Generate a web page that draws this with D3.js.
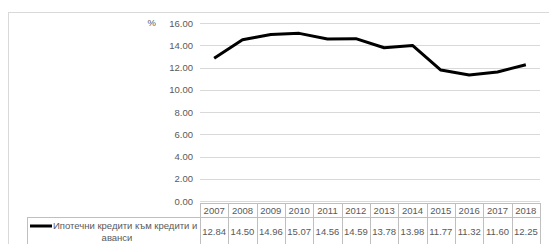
<!DOCTYPE html>
<html><head><meta charset="utf-8">
<script src="https://cdn.jsdelivr.net/npm/d3@7"></script>
<style>body{margin:0;background:#fff;overflow:hidden}text{font-family:"Liberation Sans",Arial,sans-serif}</style>
</head><body>
<script>
const years = ["2007","2008","2009","2010","2011","2012","2013","2014","2015","2016","2017","2018"];
const values = [12.84,14.50,14.96,15.07,14.56,14.59,13.78,13.98,11.77,11.32,11.60,12.25];
const yTicks = [0,2,4,6,8,10,12,14,16];
const seriesName = ["Ипотечни кредити към кредити и", "аванси"];
const unit = "%";

const W = 549, H = 244;
const svg = d3.select("body").append("svg").attr("width", W).attr("height", H).style("display", "block");
const txt = "#595959", grid = "#d9d9d9", tb = "#bfbfbf";

svg.append("rect").attr("x", 8.5).attr("y", 12.5).attr("width", 560).attr("height", 260)
  .attr("fill", "#fff").attr("stroke", grid);

const x = d3.scaleBand().domain(years).range([200, 540]);
const y = d3.scaleLinear().domain([0, 16]).range([201, 23]);

// gridlines
svg.append("g").selectAll("line").data(yTicks).join("line")
  .attr("x1", 200).attr("x2", 540)
  .attr("y1", d => Math.round(y(d)) + 0.5).attr("y2", d => Math.round(y(d)) + 0.5)
  .attr("stroke", grid).attr("stroke-width", 1);

const yAxis = d3.axisLeft(y).tickValues(yTicks).tickFormat(d3.format(".2f")).tickSize(0).tickPadding(7);
const ga = svg.append("g").attr("transform", "translate(200,0)").call(yAxis);
ga.select(".domain").remove();
ga.selectAll("text").attr("fill", txt).style("font-size", "9.5px").style("font-family", '"Liberation Sans",Arial,sans-serif');

svg.append("text").attr("x", 156).attr("y", y(16)).attr("dy", "0.32em").attr("text-anchor", "end")
  .attr("fill", txt).style("font-size", "9.5px").text(unit);

// line
const line = d3.line().x((d, i) => x(years[i]) + x.bandwidth() / 2).y(d => y(d));
svg.append("path").datum(values).attr("d", line).attr("fill", "none")
  .attr("stroke", "#000").attr("stroke-width", 3).attr("stroke-linejoin", "round");

// data table
const rowTop = 203, rowMid = 217.5, rowBot = 260;
const t = svg.append("g");
t.append("line").attr("x1", 200).attr("x2", 540).attr("y1", rowTop + 0.5).attr("y2", rowTop + 0.5).attr("stroke", tb);
t.append("line").attr("x1", 27).attr("x2", 540).attr("y1", rowMid).attr("y2", rowMid).attr("stroke", tb);
t.append("line").attr("x1", 27.5).attr("x2", 27.5).attr("y1", rowMid).attr("y2", rowBot).attr("stroke", tb);
const bounds = years.map(d => x(d)).concat([540]);
t.selectAll(".vl").data(bounds).join("line").attr("class", "vl")
  .attr("x1", d => Math.round(d) + 0.5).attr("x2", d => Math.round(d) + 0.5)
  .attr("y1", rowTop).attr("y2", rowBot).attr("stroke", tb);
t.selectAll(".yr").data(years).join("text").attr("class", "yr")
  .attr("x", d => x(d) + x.bandwidth() / 2).attr("y", 210.5).attr("dy", "0.35em")
  .attr("text-anchor", "middle").attr("fill", txt).style("font-size", "9.5px").text(d => d);
t.selectAll(".vv").data(values).join("text").attr("class", "vv")
  .attr("x", (d, i) => x(years[i]) + x.bandwidth() / 2).attr("y", 232).attr("dy", "0.35em")
  .attr("text-anchor", "middle").attr("fill", txt).style("font-size", "9.5px").text(d => d.toFixed(2));

// legend
t.append("line").attr("x1", 30).attr("x2", 52).attr("y1", 226).attr("y2", 226).attr("stroke", "#000").attr("stroke-width", 3);
t.append("text").attr("x", 53).attr("y", 226).attr("dy", "0.35em").attr("fill", txt).style("font-size", "9.5px").text(seriesName[0]);
t.append("text").attr("x", 117).attr("y", 238).attr("dy", "0.35em").attr("text-anchor", "middle").attr("fill", txt).style("font-size", "9.5px").text(seriesName[1]);
</script>
</body></html>
